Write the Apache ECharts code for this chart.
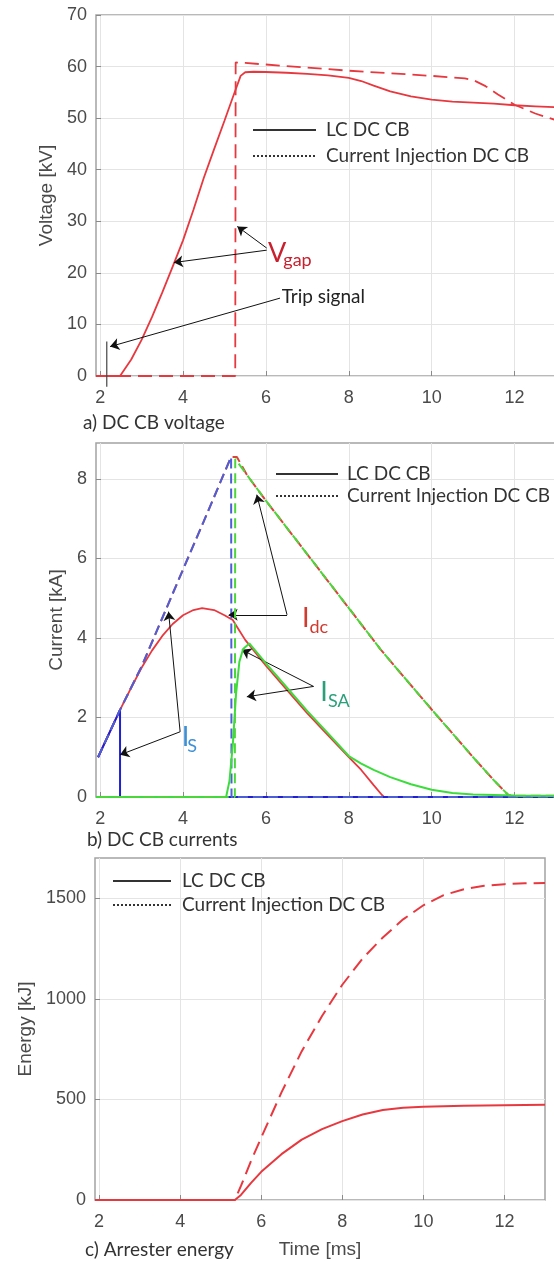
<!DOCTYPE html>
<html><head><meta charset="utf-8">
<script src="https://cdn.jsdelivr.net/npm/echarts@6/dist/echarts.min.js"></script>
<style>html,body{margin:0;padding:0;background:#fff}#c{width:554px;height:1261px}</style>
</head><body><div id="c"></div>
<script>
// ---------- data (time in ms) ----------
const xTicks = [2, 4, 6, 8, 10, 12];
const vTicks = [0, 10, 20, 30, 40, 50, 60, 70];
const iTicks = [0, 2, 4, 6, 8];
const eTicks = [0, 500, 1000, 1500];

// a) DC CB voltage [kV]
const voltLC = [[1.9,0],[2.48,0],[2.75,3.2],[3.0,7.0],[3.25,11.4],[3.5,16.2],[3.75,21.2],[4.0,26.3],[4.25,32.2],[4.5,38.4],[4.75,44.0],[5.0,49.5],[5.2,54.0],[5.39,58.2],[5.5,58.9],[5.7,59.0],[6.0,58.95],[6.5,58.8],[7.0,58.6],[7.5,58.3],[8.0,57.8],[8.3,57.2],[8.6,56.3],[9.0,55.2],[9.5,54.2],[10.0,53.6],[10.5,53.2],[11.0,53.0],[11.5,52.8],[12.0,52.5],[12.5,52.3],[13.0,52.1]];
const voltCI = [[1.9,0],[5.26,0],[5.27,60.8],[5.5,60.7],[6,60.4],[7,59.8],[8,59.2],[9,58.7],[10,58.2],[10.8,57.7],[11.0,57.4],[11.3,56.2],[11.6,54.6],[12.0,52.6],[12.5,50.9],[13,49.6]];
const tripSignal = [[2.16,6.7],[2.16,-2.1]];

// b) DC CB currents [kA]
const idcLC = [[1.95,1.0],[2.48,2.19],[2.75,2.75],[3.0,3.25],[3.25,3.68],[3.5,4.05],[3.75,4.35],[4.0,4.57],[4.25,4.70],[4.46,4.75],[4.75,4.70],[5.0,4.57],[5.2,4.45],[5.35,4.2],[5.5,3.95],[6.0,3.3],[6.5,2.7],[7.0,2.1],[7.5,1.55],[8.0,1.0],[8.3,0.68],[8.6,0.3],[8.8,0.05],[8.85,0],[13,0]];
const idcCI = [[1.95,1.0],[2.48,2.19],[3.0,3.28],[3.5,4.5],[4.0,5.72],[4.5,6.93],[5.16,8.55],[5.3,8.55],[5.54,8.1],[6,7.45],[7,6.1],[8,4.75],[8.76,3.72],[9,3.42],[10,2.2],[11,1.0],[11.5,0.42],[11.85,0.05],[12,0],[13,0]];
const isLC = [[1.95,1.0],[2.48,2.19],[2.48,0],[13,0]];
const isCI = [[1.95,1.0],[2.48,2.19],[3.0,3.28],[3.5,4.5],[4.0,5.72],[4.5,6.93],[5.16,8.55],[5.17,0],[13,0]];
const isaLC = [[1.9,0],[5.04,0],[5.12,0.4],[5.2,1.3],[5.28,2.6],[5.36,3.4],[5.45,3.72],[5.6,3.86],[6.0,3.36],[6.5,2.76],[7.0,2.16],[7.5,1.6],[8.0,1.03],[8.3,0.84],[8.6,0.68],[9.0,0.5],[9.5,0.32],[10.0,0.18],[10.5,0.1],[11,0.06],[12,0.04],[13,0.03]];
const isaCI = [[1.9,0],[5.25,0],[5.26,8.5],[5.3,8.55],[5.54,8.1],[6,7.45],[7,6.1],[8,4.75],[8.76,3.72],[9,3.42],[10,2.2],[11,1.0],[11.5,0.42],[11.85,0.05],[12,0.03],[13,0.03]];

// c) Arrester energy [kJ]
const energyLC = [[1.9,0],[5.35,0],[5.5,25],[5.75,85],[6,140],[6.5,228],[7,300],[7.5,352],[8,392],[8.5,425],[9,447],[9.5,458],[10,463],[11,468],[12,471],[13,474]];
const energyCI = [[1.9,0],[5.35,0],[5.5,70],[5.75,195],[6,310],[6.5,535],[7,740],[7.5,915],[8,1070],[8.5,1200],[9,1305],[9.5,1395],[10,1465],[10.5,1515],[11,1545],[11.5,1562],[12,1570],[12.5,1574],[13,1576]];

// annotation arrows [from, to] in data coordinates
const arrowsV = [[[6.02,24.8],[5.31,29.0]], [[6.02,24.4],[3.78,22.0]], [[6.34,15.1],[2.24,5.7]]];
const arrowsI = [[[6.51,4.58],[5.10,4.58]], [[6.51,4.58],[5.78,7.6]], [[3.93,1.64],[3.65,4.66]], [[3.93,1.64],[2.48,1.06]], [[7.15,2.78],[5.42,3.7]], [[7.15,2.78],[5.54,2.52]]];

// ---------- styles ----------
const RED = '#e8383f', BLUE = '#2020d2', BLUED = '#4d5fd8', GREEN = '#3ddc3d';
const TICKFONT = 'Liberation Sans';
const TXTFONT = 'Lato';

function xAx(g, name) {
  return {
    type: 'value', gridIndex: g, min: 1.9, max: 13,
    axisLine: { show: false },
    axisTick: { show: true, inside: true, length: 5, customValues: xTicks, lineStyle: { color: '#8a8a8a' } },
    axisLabel: { customValues: xTicks, color: '#4a4a4a', fontSize: 18, fontFamily: TICKFONT, margin: 13, formatter: v => String(v) },
    splitLine: { show: true, lineStyle: { color: '#e4e4e4', width: 1 } },
    name: name || '', nameLocation: 'middle', nameGap: 40,
    nameTextStyle: { color: '#4a4a4a', fontSize: 19, fontFamily: TICKFONT }
  };
}
function yAx(g, min, max, ticks, name, gap) {
  return {
    type: 'value', gridIndex: g, min: min, max: max,
    axisLine: { show: false },
    axisTick: { show: true, inside: true, length: 5, customValues: ticks, lineStyle: { color: '#8a8a8a' } },
    axisLabel: { customValues: ticks, color: '#4a4a4a', fontSize: 18, fontFamily: TICKFONT, margin: 9, formatter: v => String(v) },
    splitLine: { show: true, lineStyle: { color: '#e4e4e4', width: 1 } },
    name: name, nameLocation: 'middle', nameGap: gap, nameRotate: 90,
    nameTextStyle: { color: '#4a4a4a', fontSize: 19, fontFamily: TICKFONT }
  };
}
function ln(g, data, color, width, dash, z, extra) {
  const s = {
    type: 'line', xAxisIndex: g, yAxisIndex: g, data: data, showSymbol: false, symbol: 'none',
    lineStyle: { color: color, width: width, type: dash ? dash : 'solid' },
    z: z, silent: true, animation: false
  };
  return Object.assign(s, extra || {});
}
function marks(list) {
  return {
    silent: true, animation: false, symbol: ['none', 'arrow'], symbolSize: 9,
    label: { show: false }, lineStyle: { color: '#111', width: 1, type: 'solid' },
    emphasis: { disabled: true },
    data: list.map(a => [{ coord: a[0] }, { coord: a[1] }])
  };
}

const gridBase = { show: true, borderColor: '#a3a3a3', borderWidth: 1.5, backgroundColor: '#fff', outerBoundsMode: 'none', containLabel: false };

const option = {
  animation: false,
  backgroundColor: '#fff',
  grid: [
    Object.assign({ left: 96, top: 15, width: 460, height: 361 }, gridBase),
    Object.assign({ left: 96, top: 443, width: 460, height: 354 }, gridBase),
    Object.assign({ left: 95, top: 858, width: 450, height: 342 }, gridBase)
  ],
  xAxis: [xAx(0), xAx(1), xAx(2, 'Time [ms]')],
  yAxis: [
    yAx(0, 0, 70, vTicks, 'Voltage [kV]', 40),
    yAx(1, 0, 8.9, iTicks, 'Current [kA]', 20),
    yAx(2, 0, 1700, eTicks, 'Energy [kJ]', 50)
  ],
  series: [
    ln(0, voltCI, RED, 1.8, [14, 7], 3),
    ln(0, voltLC, RED, 1.8, null, 4),
    ln(0, tripSignal, '#444', 1.2, null, 5, { clip: false, markLine: marks(arrowsV) }),

    ln(1, idcLC, RED, 1.8, null, 3),
    ln(1, idcCI, '#d8443a', 2, [10, 5], 3),
    ln(1, isLC, BLUE, 2, null, 4),
    ln(1, isCI, BLUED, 2, [10, 5], 4),
    ln(1, isaLC, GREEN, 2, null, 5),
    ln(1, isaCI, '#4cd63a', 2, null, 5, { lineStyle: { color: '#4cd63a', width: 2, type: [10, 5], dashOffset: 12.3 }, markLine: marks(arrowsI) }),

    ln(2, energyCI, RED, 2, [14, 7], 3),
    ln(2, energyLC, RED, 2, null, 4)
  ]
};

const chart = echarts.init(document.getElementById('c'), null, { renderer: 'canvas' });
chart.setOption(option);

// ---------- annotations & legends ----------
function P(g, pt) { return chart.convertToPixel({ gridIndex: g }, pt); }
const gfx = [];
function txt(x, y, s, size, color, va, family) {
  gfx.push({ type: 'text', x: x, y: y, silent: true, z: 100,
    style: { text: s, fill: color, font: size + 'px ' + (family || TXTFONT), verticalAlign: va || 'middle', align: 'left' } });
}
function dtxt(g, pt, s, size, color, va) { const p = P(g, pt); txt(p[0], p[1], s, size, color, va); }
function legend(x1, x2, xt, y1, y2) {
  gfx.push({ type: 'line', silent: true, z: 100, shape: { x1: x1, y1: y1, x2: x2, y2: y1 }, style: { stroke: '#333', lineWidth: 2.2 } });
  gfx.push({ type: 'line', silent: true, z: 100, shape: { x1: x1, y1: y2, x2: x2, y2: y2 }, style: { stroke: '#333', lineWidth: 2, lineDash: [2, 2] } });
  txt(xt, y1, 'LC DC CB', 19, '#333');
  txt(xt, y2, 'Current Injection DC CB', 19, '#333');
}
legend(253, 316, 326, 130, 156);
legend(276, 338, 347, 474, 496);
legend(113, 171, 182, 881, 905);

// subscripted labels
dtxt(0, [6.05, 21.1], 'V', 27, '#c8202e', 'bottom');
dtxt(0, [6.42, 20.7], 'gap', 18, '#c8202e', 'bottom');
dtxt(0, [6.38, 15.4], 'Trip signal', 19, '#222', 'middle');

dtxt(1, [6.87, 4.15], 'I', 27, '#d13a2f', 'bottom');
dtxt(1, [7.05, 4.05], 'dc', 18, '#d13a2f', 'bottom');
dtxt(1, [3.97, 1.16], 'I', 27, '#3d8fd6', 'bottom');
dtxt(1, [4.10, 1.06], 'S', 18, '#3d8fd6', 'bottom');
dtxt(1, [7.31, 2.29], 'I', 27, '#2aa07a', 'bottom');
dtxt(1, [7.50, 2.19], 'SA', 18, '#2aa07a', 'bottom');

// panel captions
txt(83, 423, 'a) DC CB voltage', 19, '#333');
txt(87, 840, 'b) DC CB currents', 19, '#333');
txt(85, 1250, 'c) Arrester energy', 19, '#333');

chart.setOption({ graphic: gfx });
</script></body></html>
